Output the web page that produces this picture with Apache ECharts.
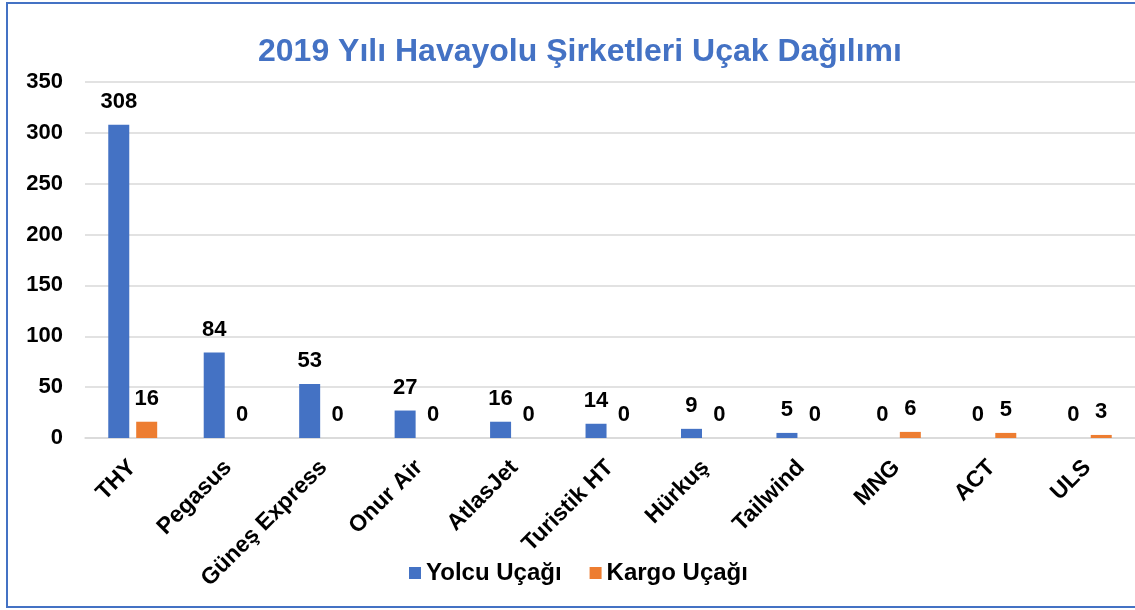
<!DOCTYPE html>
<html>
<head>
<meta charset="utf-8">
<script src="https://cdn.jsdelivr.net/npm/echarts@6/dist/echarts.min.js"></script>
<style>
html,body{margin:0;padding:0;background:#fff;}
#c{width:1135px;height:610px;}
</style>
</head>
<body>
<div id="c"></div>
<script>
const titleText = '2019 Yılı Havayolu Şirketleri Uçak Dağılımı';
const categories = ['THY','Pegasus','Güneş Express','Onur Air','AtlasJet','Turistik HT','Hürkuş','Tailwind','MNG','ACT','ULS'];
const seriesNames = ['Yolcu Uçağı','Kargo Uçağı'];
const yolcu = [308,84,53,27,16,14,9,5,0,0,0];
const kargo = [16,0,0,0,0,0,0,0,6,5,3];
const yTicks = [0,50,100,150,200,250,300,350];

const font = '"Liberation Sans", Arial, sans-serif';
const chart = echarts.init(document.getElementById('c'));
const labelStyle = {show:true, position:'top', distance:12, color:'#000', fontWeight:'bold', fontSize:22, fontFamily:font};
chart.setOption({
  animation:false,
  color:['#4472C4','#ED7D31'],
  title:{text:titleText, left:253, top:31, textStyle:{color:'#4472C4', fontSize:32, fontWeight:'bold', fontFamily:font}},
  graphic:[{type:'rect', shape:{x:7,y:3,width:1140,height:604}, style:{fill:'none', stroke:'#4472C4', lineWidth:2}}],
  legend:{bottom:20, left:404, itemWidth:12, itemHeight:12, itemGap:28, icon:'rect',
    textStyle:{fontSize:24, fontWeight:'bold', color:'#000', fontFamily:font}},
  grid:{left:85, right:0, top:82, bottom:172, containLabel:false},
  xAxis:{type:'category', data:categories,
    axisLine:{lineStyle:{color:'#d9d9d9', width:1.5}}, axisTick:{show:false},
    axisLabel:{rotate:45, margin:26, interval:0, color:'#000', fontWeight:'bold', fontSize:23, fontFamily:font}},
  yAxis:{type:'value', min:yTicks[0], max:yTicks[yTicks.length-1], interval:50,
    axisLine:{show:false}, axisTick:{show:false},
    splitLine:{lineStyle:{color:'#d9d9d9', width:1.5}},
    axisLabel:{margin:22, color:'#000', fontWeight:'bold', fontSize:22, fontFamily:font}},
  series:[
    {name:seriesNames[0], type:'bar', data:yolcu, barWidth:21, barGap:'33%', label:labelStyle},
    {name:seriesNames[1], type:'bar', data:kargo, barWidth:21, barGap:'33%', label:labelStyle}
  ]
});
</script>
</body>
</html>
